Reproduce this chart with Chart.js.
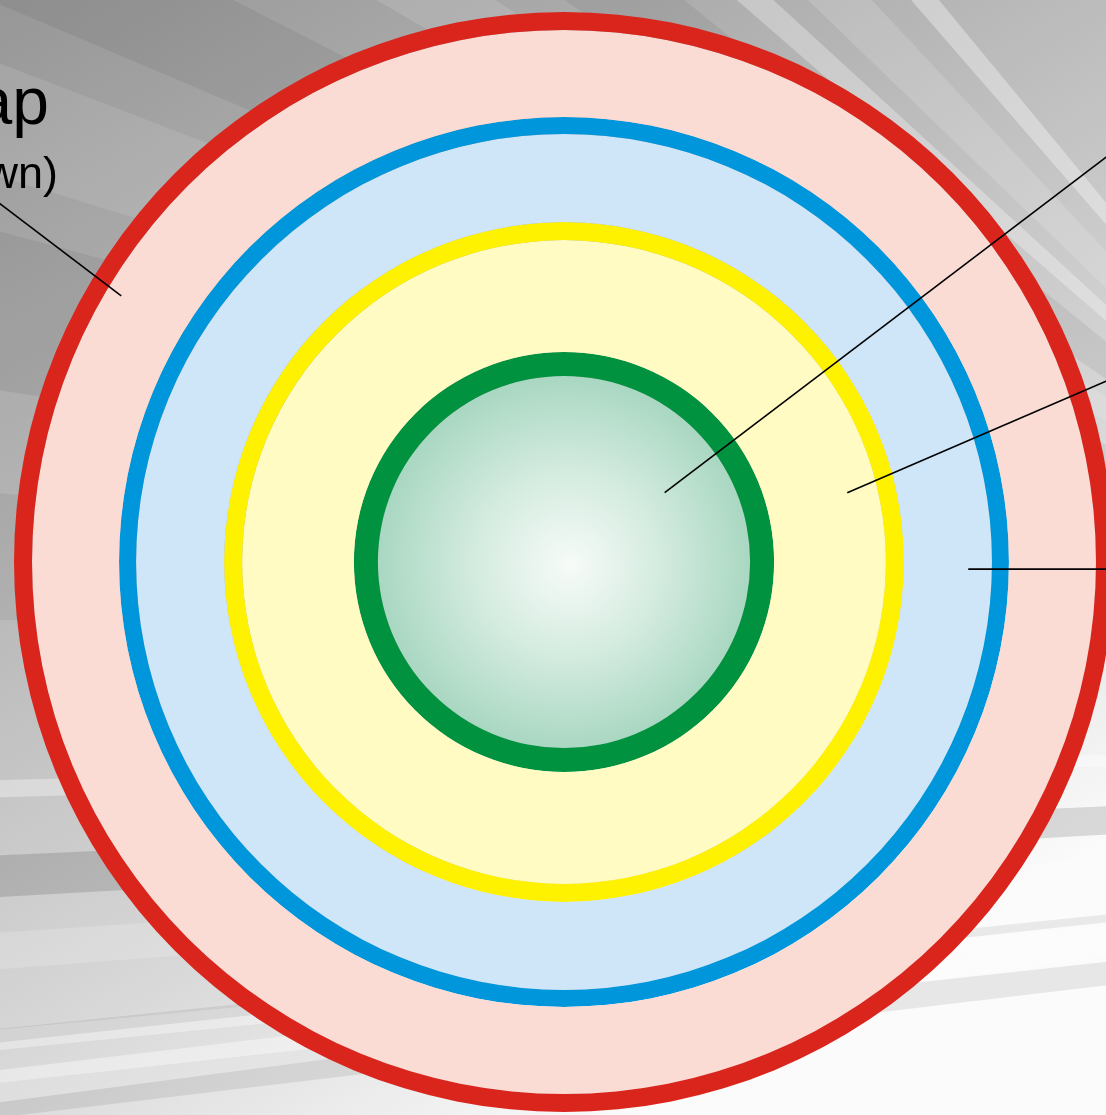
<!DOCTYPE html>
<html>
<head>
<meta charset="utf-8">
<script src="https://cdn.jsdelivr.net/npm/chart.js@4.4.1/dist/chart.umd.min.js"></script>
<style>
  html, body { margin: 0; padding: 0; overflow: hidden; background: #ccc; }
  #wrap { width: 1106px; height: 1115px; overflow: hidden; position: relative; }
  canvas { display: block; }
</style>
</head>
<body>
<div id="wrap"><canvas id="rings" width="1130" height="1115"></canvas></div>
<script>
// layers, outside to inside
var layerNames = ['Outer layer', 'Second layer', 'Third layer', 'Core'];
// outer edge of each layer, % of the full radius
var layerRadius = [100, 80.9, 61.8, 38.2];

// styles
var edgeColors = ['#da251d', '#0096db', '#fff200', '#00923f'];
var fillColors = ['#fadcd5', '#cfe6f8', '#fffbc2', 'core'];
var edgePx = [18, 17, 18, 24];
var R = 550; // px of the outer circle (matches layout padding below)

function coreFill(c) {
    var a = c.chart.chartArea;
    if (!a) return '#a6d6c0';
    var cx = (a.left + a.right) / 2, cy = (a.top + a.bottom) / 2;
    var r = (a.right - a.left) / 2 * layerRadius[3] / 100;
    var g = c.chart.ctx.createRadialGradient(cx + 6, cy + 4, 0, cx, cy, r);
    g.addColorStop(0, '#f7fbf8');
    g.addColorStop(0.45, '#d3ebdf');
    g.addColorStop(1, '#9ed2ba');
    return g;
}

// one dataset for every edge and every band
var datasets = [];
for (var i = 0; i < layerNames.length; i++) {
    var outer = layerRadius[i] * R / 100;
    var inner = i + 1 < layerRadius.length ? layerRadius[i + 1] * R / 100 : 0;
    datasets.push({
        label: layerNames[i] + ' edge',
        data: [1],
        backgroundColor: edgeColors[i],
        borderWidth: 0,
        weight: edgePx[i]
    });
    datasets.push({
        label: layerNames[i],
        data: [1],
        backgroundColor: fillColors[i] == 'core' ? coreFill : fillColors[i],
        borderWidth: 0,
        weight: outer - inner - edgePx[i]
    });
}

// grey background with rays: [vanishing x, y, from deg, to deg, colour]
var wedges = [
    [1450, 620, -171, -165, 'rgba(0,0,0,0.06)'],
    [1450, 620, -163, -159, 'rgba(255,255,255,0.10)'],
    [1450, 620, -157, -153, 'rgba(0,0,0,0.06)'],
    [1450, 620, -150, -147, 'rgba(255,255,255,0.12)'],
    [1450, 620, -145, -141, 'rgba(0,0,0,0.06)'],
    [1450, 620, -139, -137.5, 'rgba(255,255,255,0.30)'],
    [1450, 620, -136, -133, 'rgba(255,255,255,0.15)'],
    [1450, 620, -131, -129.5, 'rgba(255,255,255,0.35)'],
    [1450, 620, -180, -175, 'rgba(0,0,0,0.05)'],
    [3500, 700, 178.41, 178.69, 'rgba(255,255,255,0.35)'],
    [3500, 700, 176.78, 177.46, 'rgba(0,0,0,0.13)'],
    [3500, 700, 175.6, 176.2, 'rgba(255,255,255,0.18)'],
    [3500, 700, 174.29, 174.62, 'rgba(255,255,255,0.35)'],
    [3500, 700, 173.2, 173.76, 'rgba(0,0,0,0.08)'],
    [2600, 760, 172.5, 173.2, 'rgba(255,255,255,0.4)'],
    [2600, 760, 173.8, 174.1, 'rgba(0,0,0,0.07)']
];
var backdrop = {
    id: 'backdrop',
    beforeDraw: function (chart) {
        var ctx = chart.ctx, w = chart.width, h = chart.height;
        ctx.save();
        var g = ctx.createLinearGradient(0, 0, 650, 1115);
        g.addColorStop(0, '#979797');
        g.addColorStop(0.35, '#b4b4b4');
        g.addColorStop(0.7, '#d6d6d6');
        g.addColorStop(1, '#fbfbfb');
        ctx.fillStyle = g;
        ctx.fillRect(0, 0, w, h);
        var L = 5000;
        wedges.forEach(function (wd) {
            var vx = wd[0], vy = wd[1];
            var a1 = wd[2] * Math.PI / 180, a2 = wd[3] * Math.PI / 180;
            ctx.beginPath();
            ctx.moveTo(vx, vy);
            ctx.lineTo(vx + L * Math.cos(a1), vy + L * Math.sin(a1));
            ctx.lineTo(vx + L * Math.cos(a2), vy + L * Math.sin(a2));
            ctx.closePath();
            ctx.fillStyle = wd[4];
            ctx.fill();
        });
        ctx.restore();
    }
};

// leader lines, in units of the outer radius from the centre
var leaders = [
    [[-0.805, -0.484], [-1.03, -0.655]],
    [[0.183, -0.126], [1.1, -0.823]],
    [[0.515, -0.126], [1.1, -0.378]],
    [[0.735, 0.013], [1.1, 0.013]]
];
var notes = {
    id: 'notes',
    afterDraw: function (chart) {
        var ctx = chart.ctx, a = chart.chartArea;
        var cx = (a.left + a.right) / 2, cy = (a.top + a.bottom) / 2;
        var r = (a.right - a.left) / 2;
        ctx.save();
        ctx.strokeStyle = '#000';
        ctx.lineWidth = 1.6;
        leaders.forEach(function (l) {
            ctx.beginPath();
            ctx.moveTo(cx + l[0][0] * r, cy + l[0][1] * r);
            ctx.lineTo(cx + l[1][0] * r, cy + l[1][1] * r);
            ctx.stroke();
        });
        ctx.fillStyle = '#000';
        ctx.textAlign = 'right';
        ctx.textBaseline = 'alphabetic';
        ctx.font = '66px "Liberation Sans", Arial, sans-serif';
        ctx.fillText('ap', 49, 124);
        ctx.font = '45px "Liberation Sans", Arial, sans-serif';
        ctx.fillText('wn)', 58, 188);
        ctx.restore();
    }
};

var ctx = document.getElementById('rings').getContext('2d');
var chart = new Chart(ctx, {
    type: 'doughnut',
    data: { labels: ['layer'], datasets: datasets },
    options: {
        responsive: false,
        devicePixelRatio: 1,
        animation: false,
        cutout: 0,
        spacing: 0,
        offset: 0,
        hoverOffset: 0,
        layout: { padding: { left: 14, right: 16, top: 12, bottom: 3 } },
        plugins: {
            legend: { display: false },
            tooltip: { enabled: false }
        }
    },
    plugins: [backdrop, notes]
});
</script>
</body>
</html>
